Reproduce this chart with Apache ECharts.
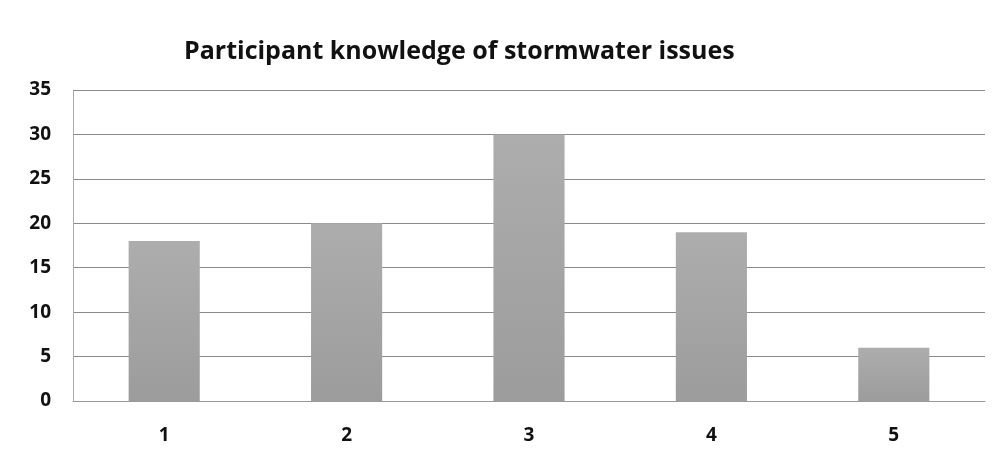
<!DOCTYPE html>
<html><head><meta charset="utf-8">
<script src="https://cdn.jsdelivr.net/npm/echarts@6/dist/echarts.min.js"></script>
<style>html,body{margin:0;padding:0;background:#fff}#c{width:1003px;height:464px}</style>
</head><body><div id="c"></div>
<script>
const categories = ['1','2','3','4','5'];
const values = [18, 20, 30, 19, 6];
const chart = echarts.init(document.getElementById('c'));
chart.setOption({
  backgroundColor:'#ffffff',
  animation:false,
  title:{text:'Participant knowledge of stormwater issues',left:179,top:34,
    textStyle:{fontFamily:'Open Sans',fontWeight:'bold',fontSize:25,color:'#111'}},
  grid:{left:73,right:18,top:90,bottom:63},
  xAxis:{type:'category',data:categories,
    axisLine:{show:true,lineStyle:{color:'#999'}},axisTick:{show:false},
    axisLabel:{margin:25,fontFamily:'Open Sans',fontWeight:'bold',fontSize:19,color:'#111'}},
  yAxis:{type:'value',min:0,max:35,interval:5,
    axisLine:{show:true,lineStyle:{color:'#aaa'}},axisTick:{show:false},
    splitLine:{lineStyle:{color:'#8a8a8a',width:1}},
    axisLabel:{margin:22,fontFamily:'Open Sans',fontWeight:'bold',fontSize:19,color:'#111'}},
  series:[{type:'bar',data:values,barWidth:'39%',
    itemStyle:{color:new echarts.graphic.LinearGradient(0,0,0,1,[{offset:0,color:'#adadad'},{offset:1,color:'#9c9c9c'}])}}]
});
</script></body></html>
